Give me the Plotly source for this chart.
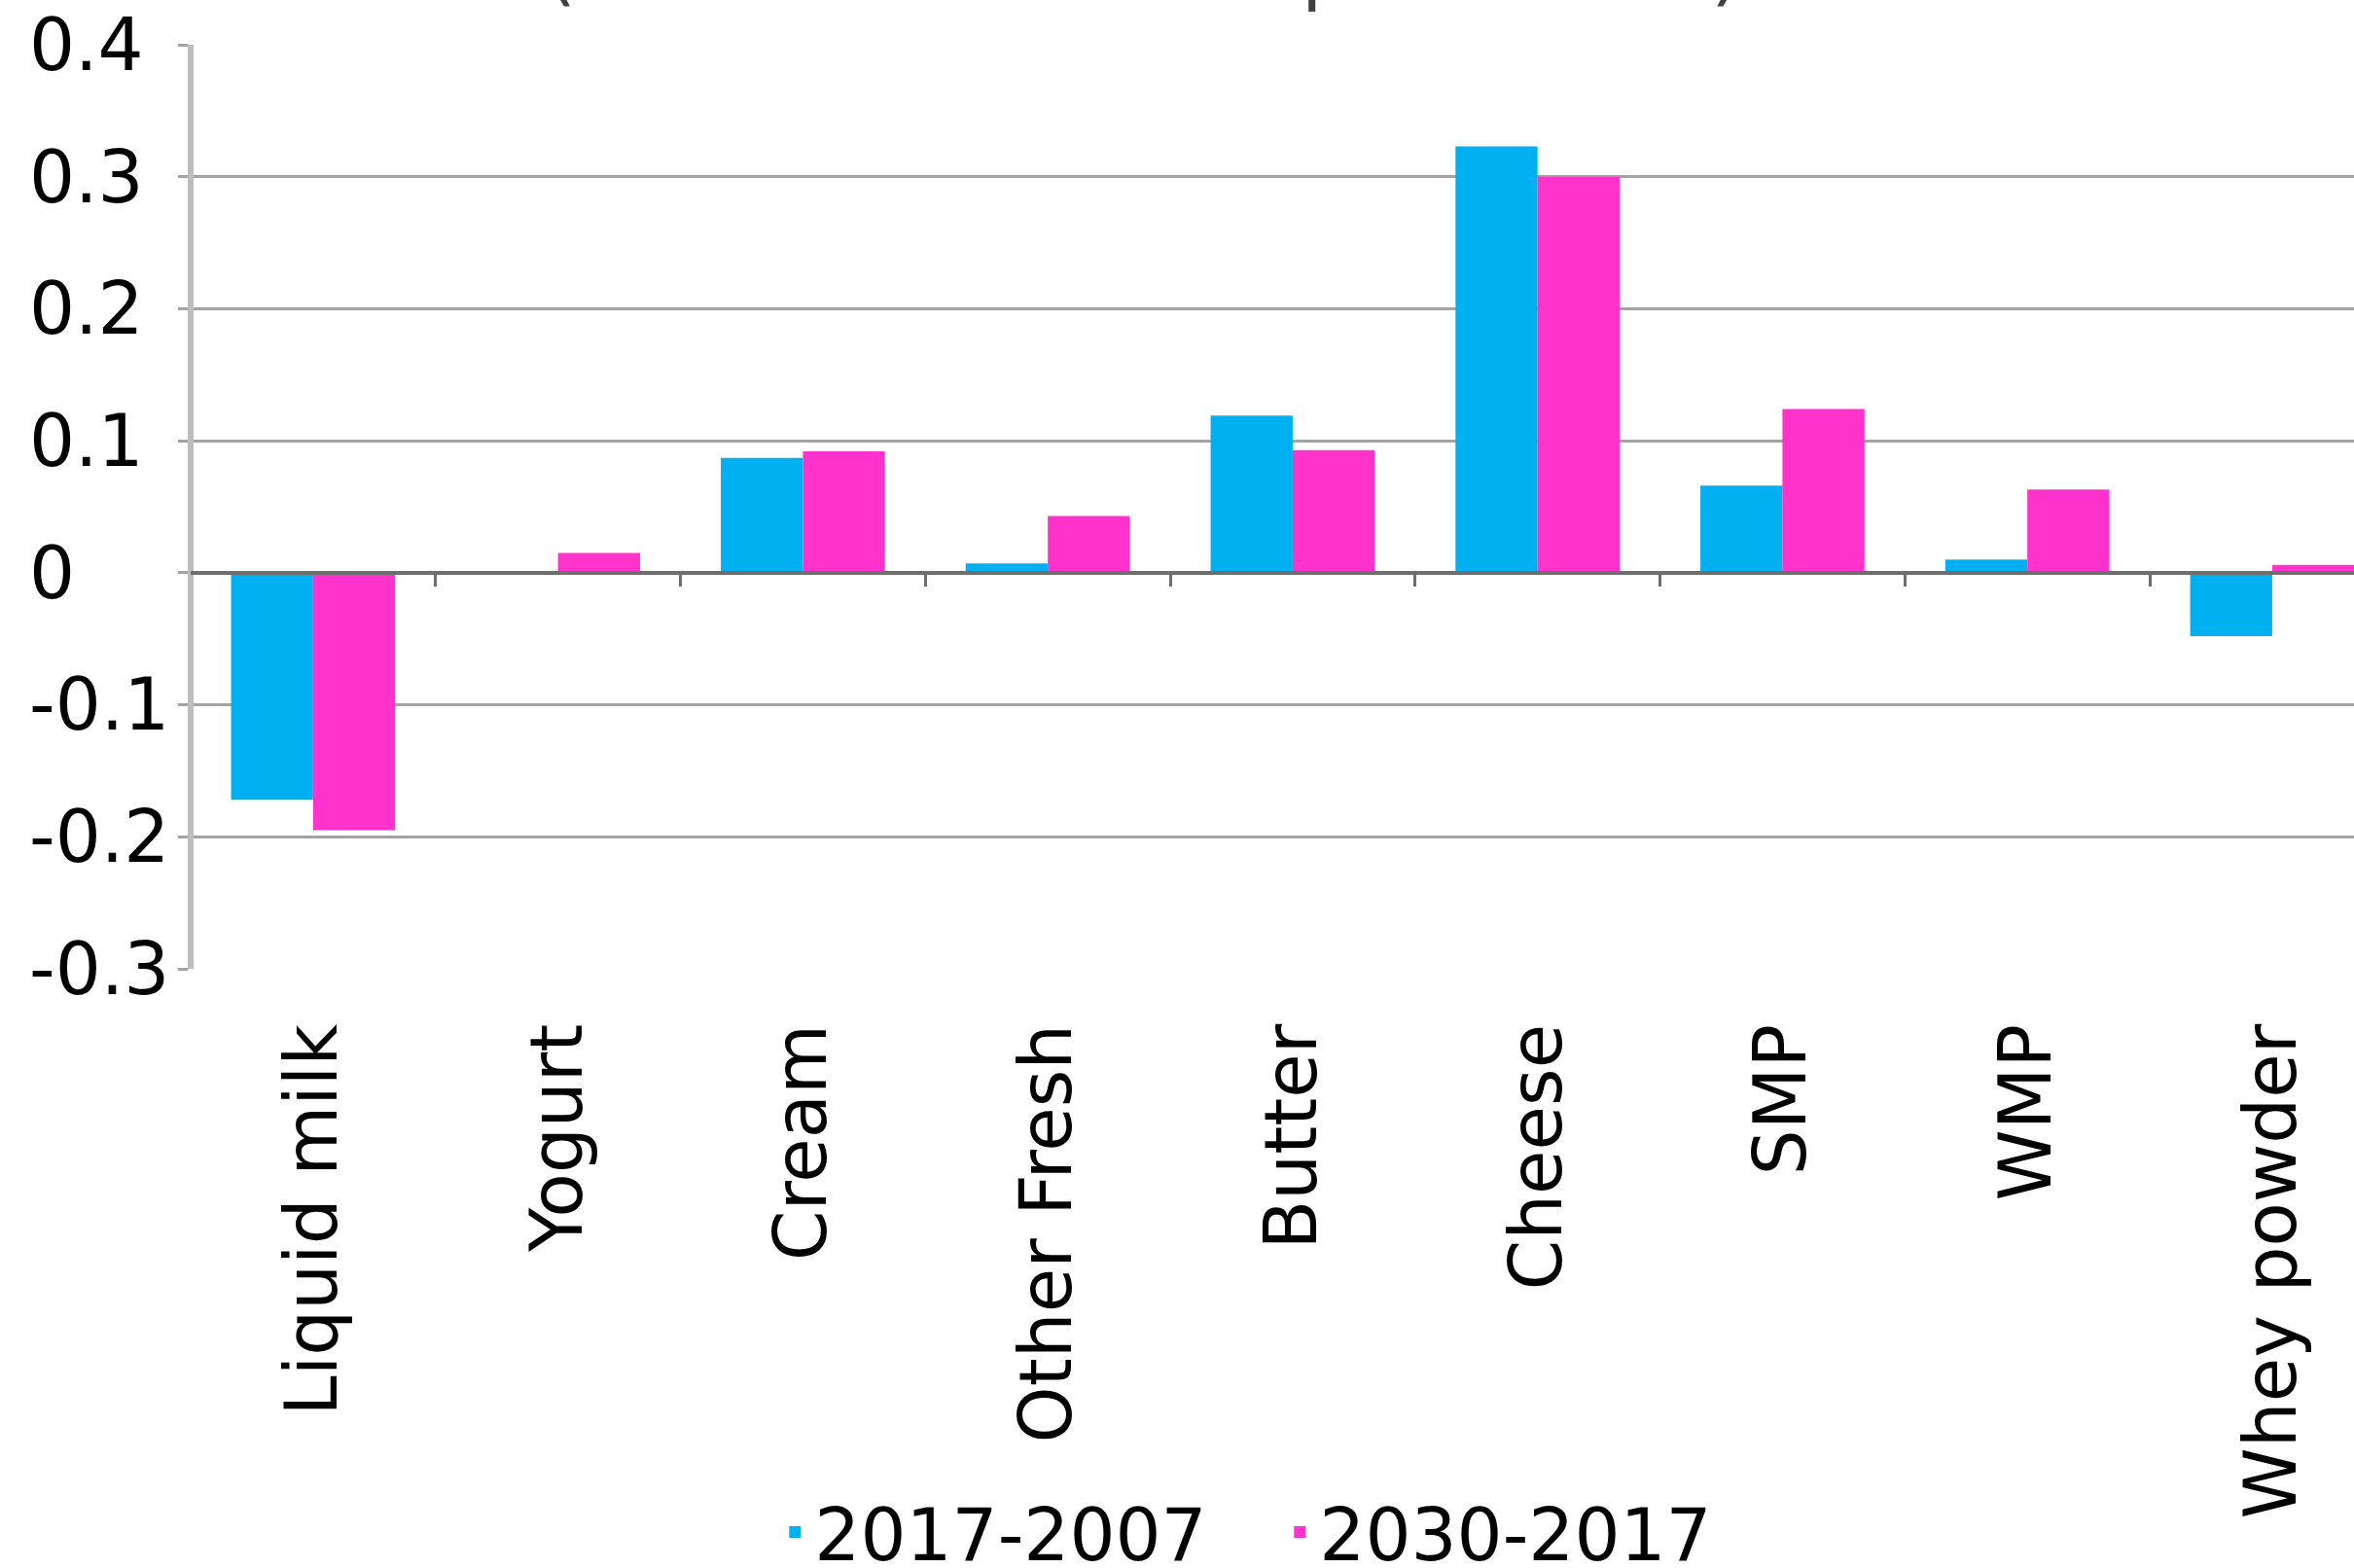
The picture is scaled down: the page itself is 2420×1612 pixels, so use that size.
import plotly.graph_objects as go

categories = ["Liquid milk", "Yogurt", "Cream", "Other Fresh", "Butter",
              "Cheese", "SMP", "WMP", "Whey powder"]
series_names = ["2017-2007", "2030-2017"]
values_2017_2007 = [-0.172, 0.0, 0.087, 0.007, 0.119, 0.323, 0.066, 0.010, -0.048]
values_2030_2017 = [-0.195, 0.015, 0.092, 0.043, 0.093, 0.300, 0.124, 0.063, 0.006]
y_tick_values = [-0.3, -0.2, -0.1, 0, 0.1, 0.2, 0.3, 0.4]
y_tick_labels = ["-0.3", "-0.2", "-0.1", "0", "0.1", "0.2", "0.3", "0.4"]
boundary_ticks = [0.5, 1.5, 2.5, 3.5, 4.5, 5.5, 6.5, 7.5]
title_text = "(Million tonnes milk per annum)"

colors = ["#00B0F0", "#FF33CC"]
FONT = "DejaVu Sans"
W, H = 2420, 1612
ML, MR, MT, MB = 26, 0, 46, 616
plot_left_px = 196
x_dom0 = (plot_left_px - ML) / (W - ML - MR)
x_range = [-0.5, 8.334]
y_range = [-0.3, 0.4]
zero_pos = (0 - y_range[0]) / (y_range[1] - y_range[0])
title_center_px = 1175

fig = go.Figure()
for name, vals, col in zip(series_names, [values_2017_2007, values_2030_2017], colors):
    fig.add_trace(go.Bar(x=categories, y=vals, name=name,
                         marker=dict(color=col, line=dict(width=0))))

# empty helper traces so the extra axes render
fig.add_trace(go.Scatter(x=[], y=[], xaxis="x2", yaxis="y", showlegend=False))
fig.add_trace(go.Scatter(x=[], y=[], xaxis="x", yaxis="y2", showlegend=False))

fig.update_layout(
    width=W, height=H,
    margin=dict(l=ML, r=MR, t=MT, b=MB, pad=0, autoexpand=False),
    paper_bgcolor="white", plot_bgcolor="white",
    font=dict(family=FONT, size=74, color="black"),
    bargap=0.33, bargroupgap=0,
    xaxis=dict(domain=[x_dom0, 1], range=x_range, type="category",
               automargin=False,
               showgrid=False, showline=False, zeroline=False,
               ticks="", tickangle=-90, ticklabelstandoff=41,
               tickfont=dict(family=FONT, size=74, color="black")),
    xaxis2=dict(overlaying="x", anchor="free", position=zero_pos,
                automargin=False,
                range=x_range, type="linear", showgrid=False, zeroline=False,
                showline=True, linecolor="#6e6e6e", linewidth=4,
                tickvals=boundary_ticks, ticks="outside", ticklen=12,
                tickwidth=3, tickcolor="#6e6e6e", showticklabels=False),
    yaxis=dict(range=y_range, anchor="free", position=x_dom0,
               automargin=False,
               tickvals=y_tick_values, showticklabels=False,
               showgrid=True, gridcolor="#a3a3a3", gridwidth=3,
               zeroline=False,
               showline=True, linecolor="#bdbdbd", linewidth=6,
               ticks="outside", ticklen=10, tickwidth=3, tickcolor="#a3a3a3"),
    yaxis2=dict(overlaying="y", anchor="free", position=0, range=y_range,
                automargin=False,
                tickvals=y_tick_values, ticktext=y_tick_labels,
                ticklabelposition="inside", ticklabeloverflow="allow",
                showgrid=False, zeroline=False, showline=False, ticks="",
                tickfont=dict(family=FONT, size=74, color="black")),
    legend=dict(orientation="h", x=0.3222, xanchor="left", y=-0.552, yanchor="top",
                font=dict(family=FONT, size=74, color="black"),
                entrywidth=474, entrywidthmode="pixels",
                bgcolor="rgba(0,0,0,0)", borderwidth=0),
    annotations=[dict(text=title_text, xref="paper", yref="paper",
                      x=(title_center_px - ML) / (W - ML - MR), xanchor="center",
                      y=1, yanchor="bottom", yshift=30, showarrow=False,
                      font=dict(family=FONT, size=77, color="#404040"))],
)

fig.write_html("out.html")
